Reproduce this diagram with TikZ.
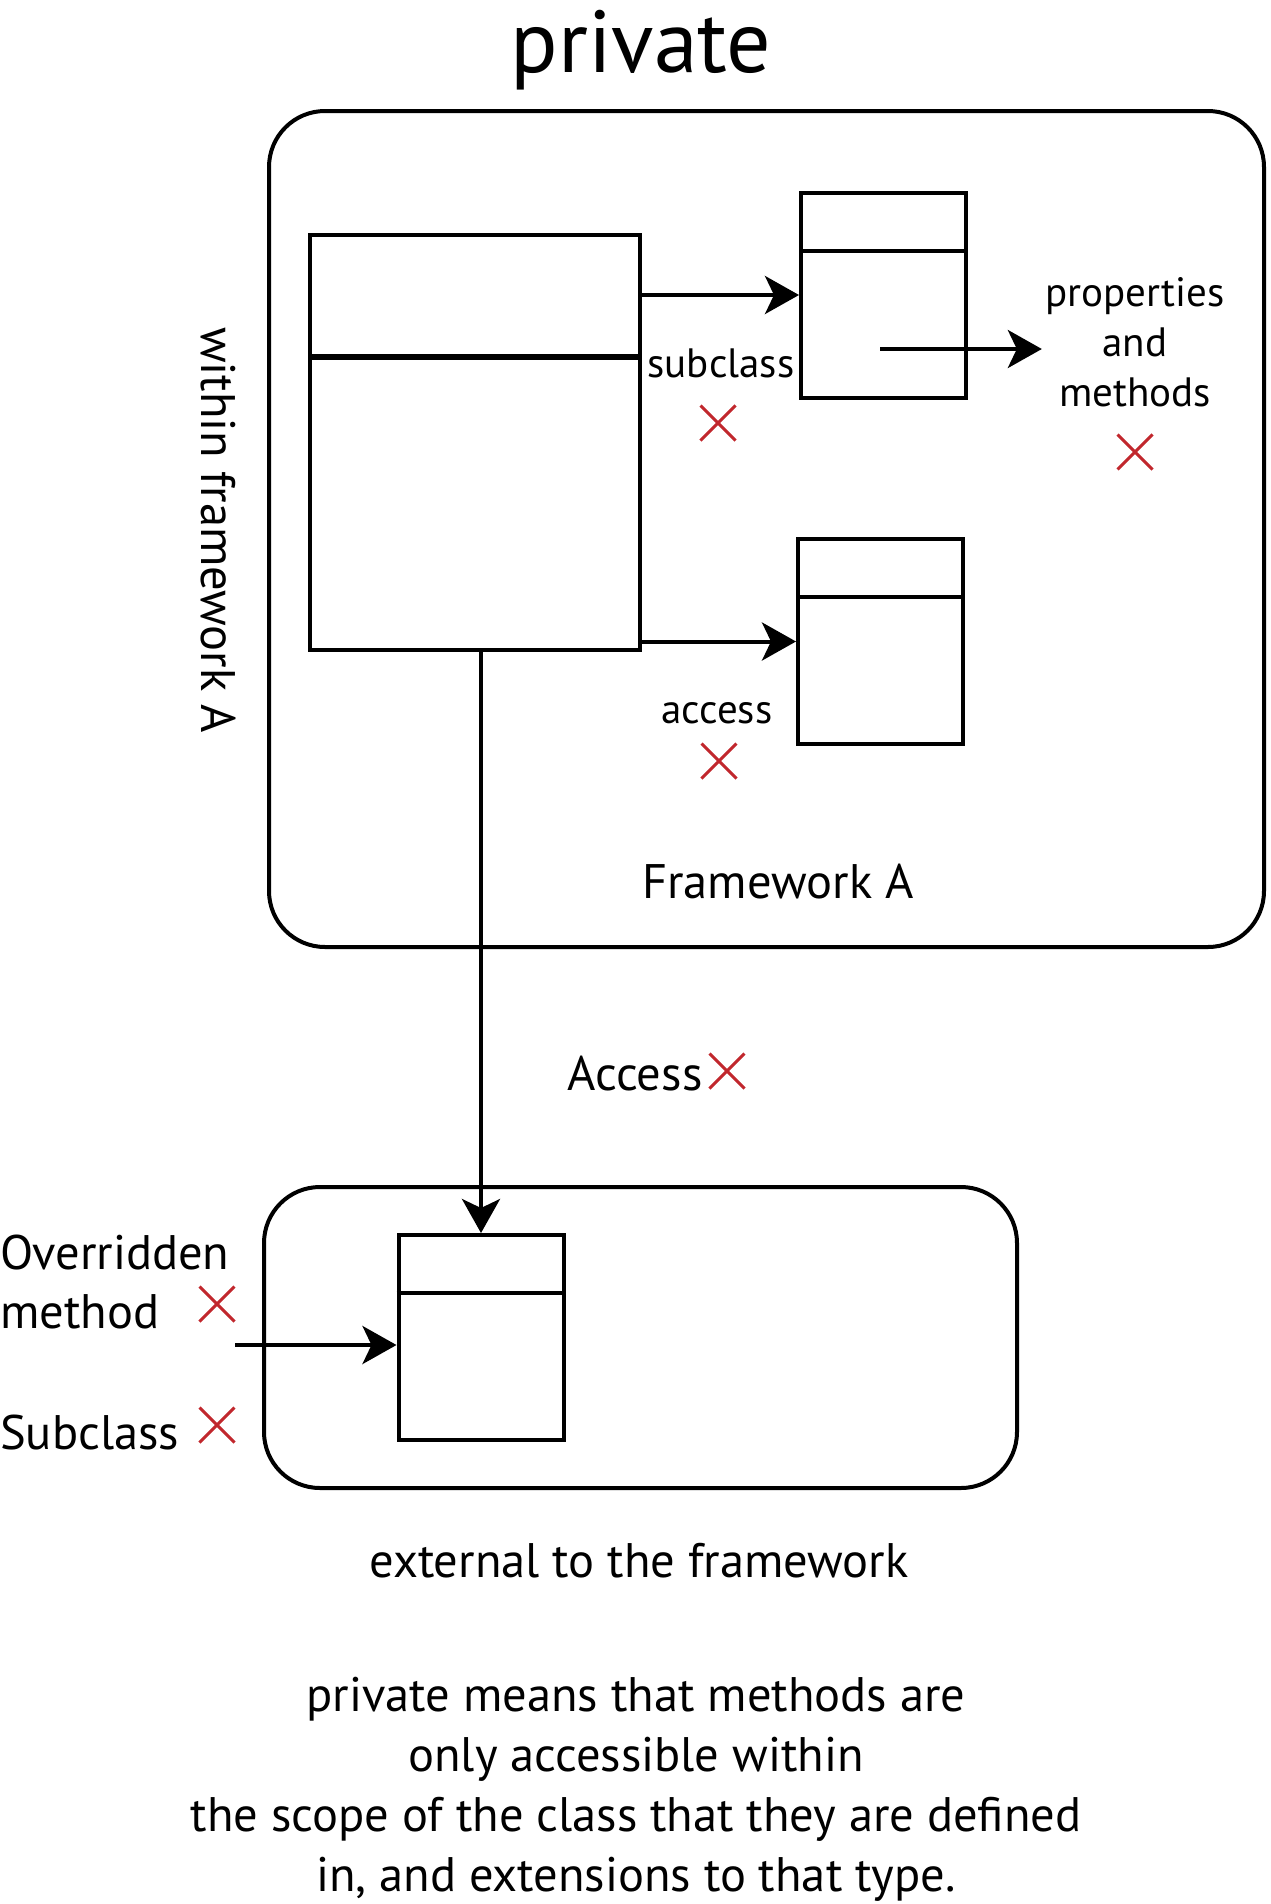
\documentclass[tikz,border=0pt]{standalone}
\usepackage{fontspec}
\setmainfont{PT Sans}
\usetikzlibrary{positioning, arrows.meta, shapes.misc}
\definecolor{xred}{RGB}{193,39,45}

\tikzset{
  frame/.style={draw, line width=4pt, rounded corners=56pt, inner sep=0pt},
  classbox/.style={draw, line width=4pt, inner sep=0pt, minimum width=165pt, minimum height=205pt},
  arr/.style={-{Stealth[length=34pt, width=38pt, inset=9pt]}, line width=4pt},
  denied/.style={cross out, draw=xred, line width=3pt, minimum size=32pt, inner sep=0pt},
  lbl/.style={font=\fontsize{41}{50}\selectfont, align=center},
  txt/.style={font=\fontsize{48.5}{60}\selectfont, align=center},
}

\begin{document}
\begin{tikzpicture}[x=1pt, y=-1pt]
  \useasboundingbox (0,0) rectangle (1270,1904);

  \node[font=\fontsize{88}{100}\selectfont, anchor=base] (title) at (641,72) {private};

  % framework A
  \node[frame, minimum width=995pt, minimum height=836pt] (fwA) at (766.5,529) {};
  \node[draw, line width=4pt, inner sep=0pt, minimum width=330pt, minimum height=415pt] (base) at (475,442.5) {};
  \draw[line width=6pt] ([yshift=-124pt]base.north west) -- ([yshift=-124pt]base.north east);
  \node[classbox] (sub) at (883.5,295) {};
  \node[classbox] (acc) at (880.5,641.5) {};

  % outside
  \node[frame, minimum width=753pt, minimum height=301pt] (ext) at (640.5,1337.5) {};
  \node[classbox] (extcls) at (481,1337.5) {};

  \foreach \c in {sub,acc,extcls}
    \draw[line width=4pt] ([yshift=-60pt]\c.north west) -- ([yshift=-60pt]\c.north east);

  % labels
  \node[lbl, anchor=base] (sublbl) at (721,377) {subclass};
  \node[denied] (x1) at (718,423) {};
  \node[lbl] (props) at (1135,342) {properties\\and\\methods};
  \node[denied] (x2) at (1135,452) {};
  \node[lbl, anchor=base] (acclbl) at (717,723) {access};
  \node[denied] (x3) at (719,761) {};
  \node[txt, anchor=base] (fwlbl) at (778,898) {Framework A};
  \node[txt, rotate=-90] (within) at (218,530) {within framework A};

  \node[txt, anchor=base] (acc2) at (635,1090) {Access};
  \node[denied] (x4) at (727,1071) {};

  \node[txt, anchor=base west, inner sep=0pt] (ovr) at (0,1269) {Overridden};
  \node[txt, anchor=base west, inner sep=0pt] (meth) at (0,1328) {method};
  \node[denied] (x5) at (217,1304) {};
  \node[txt, anchor=base west, inner sep=0pt] (subcl) at (0,1449) {Subclass};
  \node[denied] (x6) at (217,1425) {};

  \node[txt, anchor=base] (extlbl) at (639,1577) {external to the framework};
  \node[txt] (note) at (636,1789) {private means that methods are\\only accessible within\\the scope of the class that they are defined\\in, and extensions to that type.};

  % connectors
  \coordinate (pmfrom) at (880,349);
  \coordinate (ovrfrom) at (235,1345);
  \draw[arr] (base.east |- sub.west) -- (sub.west);
  \draw[arr] (base.east |- acc.west) -- (acc.west);
  \draw[arr] (pmfrom) -- (pmfrom -| props.west);
  \draw[arr] (extcls.north |- base.south) -- (extcls.north);
  \draw[arr] (ovrfrom) -- (ovrfrom -| extcls.west);
\end{tikzpicture}
\end{document}
